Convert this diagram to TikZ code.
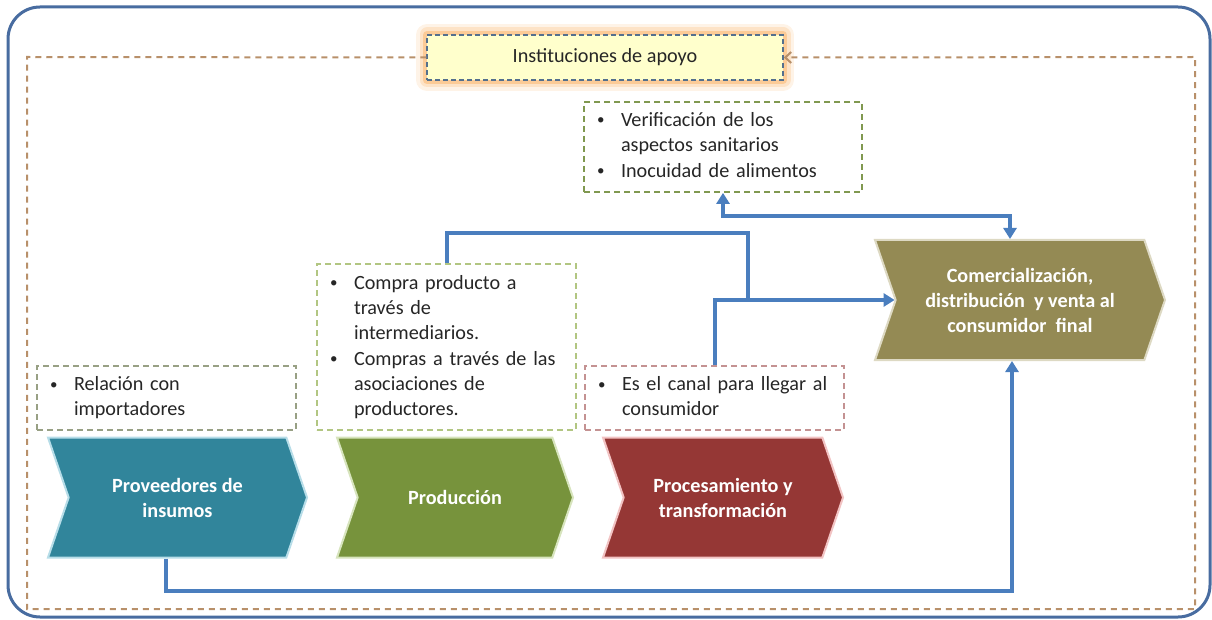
\documentclass[tikz,border=0pt]{standalone}
\usepackage{fontspec}
\setmainfont{Carlito}
\usepackage{xcolor}
\usetikzlibrary{shapes.symbols,arrows.meta,positioning}

\definecolor{marco}{RGB}{72,108,160}
\definecolor{cafe}{RGB}{184,144,106}
\definecolor{azul}{RGB}{74,126,190}
\definecolor{finst}{RGB}{255,255,204}
\definecolor{binst}{RGB}{84,112,142}
\definecolor{glow}{RGB}{250,175,95}
\definecolor{cprov}{RGB}{49,133,155}
\definecolor{bprov}{RGB}{183,221,232}
\definecolor{cprod}{RGB}{119,147,60}
\definecolor{bprod}{RGB}{215,228,189}
\definecolor{cproc}{RGB}{149,55,53}
\definecolor{bproc}{RGB}{242,195,195}
\definecolor{ccom}{RGB}{148,138,84}
\definecolor{bcom}{RGB}{221,217,195}
\definecolor{vrel}{RGB}{152,160,132}
\definecolor{vcom}{RGB}{178,198,130}
\definecolor{vcan}{RGB}{196,146,146}
\definecolor{vver}{RGB}{128,152,80}

\newcommand{\punto}[1]{\makebox[24pt][l]{\raisebox{1.5pt}{\fontsize{15}{15}\selectfont\textbullet}}\begin{tabular}[t]{@{}l@{}}#1\end{tabular}}

\begin{document}
\begin{tikzpicture}[x=1pt, y=-1pt, inner sep=0pt,
  font=\fontsize{20.2}{25}\selectfont,
  chev/.style={signal, signal from=west, signal to=east, signal pointer angle=142,
    minimum height=120pt, line width=2pt, text=white, align=center,
    font=\fontsize{20.2}{25}\selectfont\bfseries},
  nota/.style={rectangle, draw, line width=1.8pt, dash pattern=on 6pt off 4pt,
    align=left, inner xsep=13pt, text width=233pt, text=black!85},
  flecha/.style={draw=azul, line width=4pt, -{Triangle[length=11pt,width=13pt]}},
  ]
\useasboundingbox (0,0) rectangle (1212,620);

% marco exterior
\draw[marco, line width=3pt, rounded corners=32pt] (8,7) rectangle (1210,617);

% eslabones de la cadena
\node[chev, fill=cprov, draw=bprov, minimum width=259pt] (prov) at (177.5,497.5) {Proveedores de\\insumos};
\node[chev, fill=cprod, draw=bprod, minimum width=236pt] (prod) at (455,497.5) {Producción};
\node[chev, fill=cproc, draw=bproc, minimum width=240pt] (proc) at (723,497.5) {Procesamiento y\\transformación};
\node[chev, fill=ccom, draw=bcom, minimum width=290pt] (com) at (1020,300) {Comercialización,\\distribución\ \ y venta al\\consumidor\ \ final};

% notas
\node[nota, draw=vrel, minimum height=64pt] (rel) at (166.5,398) {\punto{Relación con\\importadores}};
\node[nota, draw=vcom, minimum height=166pt] (compra) at (446.5,347) {\punto{Compra producto a\\través de\\intermediarios.}\\\punto{Compras a través de las\\asociaciones de\\productores.}};
\node[nota, draw=vcan, minimum height=64pt] (canal) at (714.5,398) {\punto{Es el canal para llegar al\\consumidor}};
\node[nota, draw=vver, text width=252pt, minimum height=90pt] (verif) at (723,147) {\punto{Verificación de los\\aspectos sanitarios}\\\punto{Inocuidad de alimentos}};

% instituciones
\node[rectangle, draw=binst, fill=finst, line width=1.5pt, dash pattern=on 5pt off 3pt,
  minimum width=356pt, minimum height=45pt, text=black!85,
  preaction={draw=glow!15, line width=22pt, solid, line join=round},
  preaction={draw=glow!35, line width=15pt, solid, line join=round},
  preaction={draw=glow!65, line width=8pt, solid, line join=round}] (inst) at (605,57.5) {Instituciones de apoyo};

\coordinate (esqa) at (27,57);
\coordinate (esqb) at (27,609);
\coordinate (esqc) at (1195,609);
\coordinate (esqd) at (1195,57);
\draw[cafe, line width=2pt, dash pattern=on 6pt off 5pt, -{Straight Barb[length=6pt,width=11pt]}]
  (inst.west) -- (esqa) -- (esqb) -- (esqc) -- (esqd) -- (inst.east);

% conexiones
\coordinate (union) at (748,298);
\draw[flecha] ([xshift=-12pt]prov.south) -- ++(0,32) -| ([xshift=-8pt]com.south);
\draw[flecha, -] (compra.north) -- ++(0,-30) -| (union);
\draw[flecha] (canal.north) |- (com.west);
\draw[flecha, {Triangle[length=11pt,width=13pt]}-{Triangle[length=11pt,width=13pt]}]
  ([xshift=-10pt]com.north) -- ++(0,-23) -| (verif.south);
\end{tikzpicture}
\end{document}
